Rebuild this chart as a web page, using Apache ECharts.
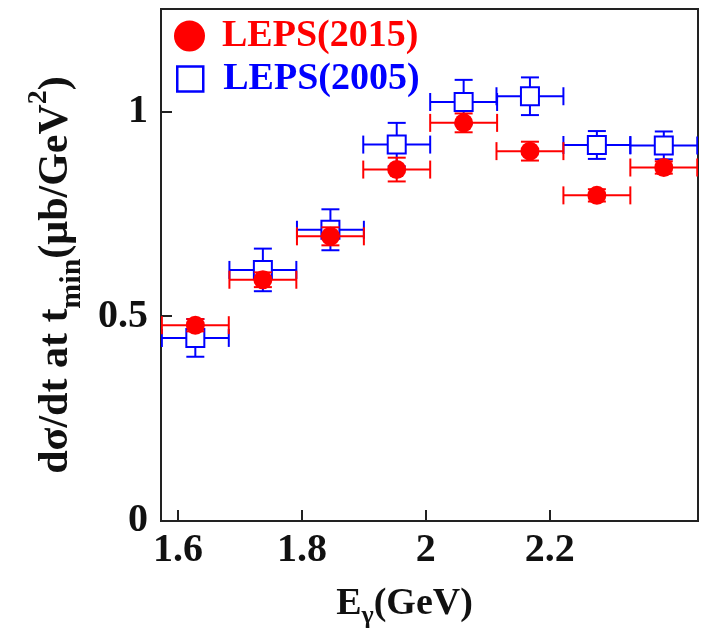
<!DOCTYPE html>
<html>
<head>
<meta charset="utf-8">
<script src="https://cdn.jsdelivr.net/npm/echarts@6/dist/echarts.min.js"></script>
<style>html,body{margin:0;padding:0;background:#fff}#c{width:705px;height:642px}</style>
</head>
<body>
<div id="c"></div>
<script>
// photon energy bin centres (GeV) and half bin widths
const energy = [1.628, 1.737, 1.846, 1.953, 2.061, 2.168, 2.276, 2.384];
const binHalfWidth = [0.054, 0.054, 0.054, 0.054, 0.054, 0.054, 0.054, 0.054];
// LEPS(2015)
const leps2015 = [0.478, 0.589, 0.695, 0.858, 0.972, 0.903, 0.795, 0.863];
const leps2015Err = [0.015, 0.018, 0.022, 0.029, 0.023, 0.023, 0.015, 0.015];
// LEPS(2005)
const leps2005 = [0.447, 0.613, 0.711, 0.919, 1.023, 1.037, 0.918, 0.917];
const leps2005Err = [0.046, 0.052, 0.050, 0.053, 0.054, 0.046, 0.034, 0.034];
// tick labels
const xTicks = [1.6, 1.8, 2.0, 2.2];
const yTicks = [0, 0.5, 1];

const FONT = 'Liberation Serif';
const RED = '#ff0000', BLUE = '#0000ff';

function rows(vals, errs) {
  return energy.map((e, i) => [e, vals[i], binHalfWidth[i], errs[i]]);
}
function errRender(color) {
  return function (params, api) {
    const x = api.value(0), y = api.value(1), xe = api.value(2), ye = api.value(3);
    const pL = api.coord([x - xe, y]), pR = api.coord([x + xe, y]);
    const pT = api.coord([x, y + ye]), pB = api.coord([x, y - ye]);
    const c = 9;
    const st = { stroke: color, lineWidth: 2 };
    const ln = (a, b) => ({ type: 'line', shape: { x1: a[0], y1: a[1], x2: b[0], y2: b[1] }, style: st });
    return {
      type: 'group',
      children: [
        ln(pL, pR),
        ln([pL[0], pL[1] - c], [pL[0], pL[1] + c]),
        ln([pR[0], pR[1] - c], [pR[0], pR[1] + c]),
        ln(pT, pB),
        ln([pT[0] - c, pT[1]], [pT[0] + c, pT[1]]),
        ln([pB[0] - c, pB[1]], [pB[0] + c, pB[1]])
      ]
    };
  };
}

const chart = echarts.init(document.getElementById('c'));
const labelStyle = { fontFamily: FONT, fontWeight: 'bold', fontSize: 40, color: '#111' };
chart.setOption({
  animation: false,
  backgroundColor: '#fff',
  grid: { left: 161, right: 7, top: 9, bottom: 121, show: true, borderColor: '#222', borderWidth: 2 },
  legend: [
    {
      data: [{ name: 'LEPS(2015)', icon: 'circle' }],
      left: 174, top: 17, padding: 0, itemWidth: 31, itemHeight: 31, selectedMode: false,
      textStyle: { color: RED, fontFamily: FONT, fontWeight: 'bold', fontSize: 38, padding: [0, 0, 0, 12] }
    },
    {
      data: [{ name: 'LEPS(2005)', icon: 'rect' }],
      left: 176, top: 60, padding: 0, itemWidth: 26, itemHeight: 25, selectedMode: false,
      itemStyle: { color: '#fff', borderColor: BLUE, borderWidth: 2.5 },
      textStyle: { color: BLUE, fontFamily: FONT, fontWeight: 'bold', fontSize: 38, padding: [0, 0, 0, 15] }
    }
  ],
  xAxis: {
    type: 'value', min: 1.5726, max: 2.4392,
    name: '{m|E}{sub|γ}{m|(GeV)}', nameLocation: 'middle', nameGap: 58,
    nameTextStyle: {
      padding: [0, 50, 0, 0],
      rich: {
        m: { fontFamily: FONT, fontWeight: 'bold', fontSize: 38, color: '#111', lineHeight: 50, verticalAlign: 'middle' },
        sub: { fontFamily: FONT, fontWeight: 'bold', fontSize: 26, color: '#111', lineHeight: 50, verticalAlign: 'bottom' }
      }
    },
    axisLine: { show: true, lineStyle: { color: '#222', width: 2 } },
    axisTick: { show: true, inside: true, length: 11, customValues: xTicks, lineStyle: { color: '#222', width: 2 } },
    axisLabel: Object.assign({ margin: 10, customValues: xTicks }, labelStyle),
    splitLine: { show: false }
  },
  yAxis: {
    type: 'value', min: 0, max: 1.25,
    name: '{m|dσ/dt at t}{sub|min}{m|(μb/GeV}{sup|2}{m|)}', nameLocation: 'middle', nameGap: 74,
    nameTextStyle: {
      padding: [0, 20, 0, 0],
      rich: {
        m: { fontFamily: FONT, fontWeight: 'bold', fontSize: 42, color: '#111', lineHeight: 62, verticalAlign: 'middle' },
        sub: { fontFamily: FONT, fontWeight: 'bold', fontSize: 30, color: '#111', verticalAlign: 'bottom' },
        sup: { fontFamily: FONT, fontWeight: 'bold', fontSize: 28, color: '#111', verticalAlign: 'top' }
      }
    },
    axisLine: { show: true, lineStyle: { color: '#222', width: 2 } },
    axisTick: { show: true, inside: true, length: 11, customValues: yTicks, lineStyle: { color: '#222', width: 2 } },
    axisLabel: Object.assign({ margin: 13, customValues: yTicks }, labelStyle),
    splitLine: { show: false }
  },
  series: [
    { type: 'custom', name: 'err2005', z: 1, clip: true, renderItem: errRender(BLUE), encode: { x: 0, y: 1 }, data: rows(leps2005, leps2005Err) },
    { type: 'scatter', name: 'LEPS(2005)', z: 2, symbol: 'rect', symbolSize: 18,
      itemStyle: { color: '#fff', borderColor: BLUE, borderWidth: 2, opacity: 1 },
      data: energy.map((e, i) => [e, leps2005[i]]) },
    { type: 'custom', name: 'err2015', z: 3, clip: true, renderItem: errRender(RED), encode: { x: 0, y: 1 }, data: rows(leps2015, leps2015Err) },
    { type: 'scatter', name: 'LEPS(2015)', z: 4, symbol: 'circle', symbolSize: 19,
      itemStyle: { color: RED, opacity: 1 },
      data: energy.map((e, i) => [e, leps2015[i]]) }
  ]
});
</script>
</body>
</html>
